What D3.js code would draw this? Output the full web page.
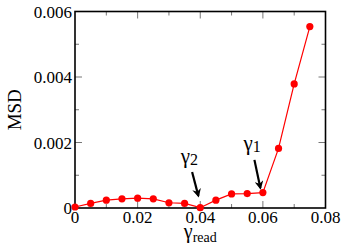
<!DOCTYPE html>
<html><head><meta charset="utf-8">
<script src="https://cdn.jsdelivr.net/npm/d3@7"></script>
<style>body{margin:0;background:#fff;} svg{display:block;}</style>
</head><body>
<svg id="c" width="346" height="249"></svg>
<script>
const xValues = [0,0.005,0.01,0.015,0.02,0.025,0.03,0.035,0.04,0.045,0.05,0.055,0.06,0.065,0.07,0.075];
const msdValues = [0.00003,0.00014,0.00024,0.00028,0.0003,0.00028,0.00016,0.00014,0.00001,0.00024,0.00043,0.00044,0.00047,0.00182,0.00379,0.00554];
const xTicks = [0,0.02,0.04,0.06,0.08];
const xTickLabels = ["0","0.02","0.04","0.06","0.08"];
const yTicks = [0,0.002,0.004,0.006];
const yTickLabels = ["0","0.002","0.004","0.006"];
const xMinor = [0.01,0.03,0.05,0.07];
const yMinor = [0.001,0.003,0.005];
const annotations = [
  {sub:"2", tx:0.0365, ty:0.00137, x1:0.0374, y1:0.0011, x2:0.0394, y2:0.00037},
  {sub:"1", tx:0.0566, ty:0.00177, x1:0.0573, y1:0.00147, x2:0.0592, y2:0.00061}
];

const svg = d3.select("#c");
const L=75, R=325.5, T=11.5, B=208;
const x = d3.scaleLinear().domain([0,0.08]).range([L,R]);
const y = d3.scaleLinear().domain([0,0.006]).range([B,T]);
const font = "'Liberation Serif','Times New Roman',serif";

const g = svg.append("g");
function tickLines(vals, len, axis){
  vals.forEach(v=>{
    if(axis==="x"){
      g.append("line").attr("x1",x(v)).attr("x2",x(v)).attr("y1",B).attr("y2",B-len).attr("stroke","#777").attr("stroke-width",1);
      g.append("line").attr("x1",x(v)).attr("x2",x(v)).attr("y1",T).attr("y2",T+len).attr("stroke","#777").attr("stroke-width",1);
    } else {
      g.append("line").attr("y1",y(v)).attr("y2",y(v)).attr("x1",L).attr("x2",L+len).attr("stroke","#777").attr("stroke-width",1);
      g.append("line").attr("y1",y(v)).attr("y2",y(v)).attr("x1",R).attr("x2",R-len).attr("stroke","#777").attr("stroke-width",1);
    }
  });
}
tickLines(xTicks.slice(1,-1),7,"x");
tickLines(xMinor,4,"x");
tickLines(yTicks.slice(1,-1),7,"y");
tickLines(yMinor,4,"y");

svg.append("rect").attr("x",L).attr("y",T).attr("width",R-L).attr("height",B-T)
  .attr("fill","none").attr("stroke","#000").attr("stroke-width",1.6);

xTicks.forEach((v,i)=>{
  svg.append("text").attr("x",x(v)).attr("y",B+15).attr("text-anchor","middle")
    .attr("font-family",font).attr("font-size",17).text(xTickLabels[i]);
});
yTicks.forEach((v,i)=>{
  svg.append("text").attr("x",L-3).attr("y",y(v)+6).attr("text-anchor","end")
    .attr("font-family",font).attr("font-size",17).text(yTickLabels[i]);
});

svg.append("text").attr("transform",`translate(21,${(T+B)/2}) rotate(-90)`).attr("text-anchor","middle")
  .attr("font-family",font).attr("font-size",19).text("MSD");
const xl = svg.append("text").attr("x",(L+R)/2).attr("y",238).attr("text-anchor","middle")
  .attr("font-family",font).attr("font-size",20);
xl.append("tspan").text("γ");
xl.append("tspan").attr("font-size",14).attr("dy",4).text("read");

const line = d3.line().x((d,i)=>x(xValues[i])).y(d=>y(d));
svg.append("path").datum(msdValues).attr("d",line).attr("fill","none").attr("stroke","#ff0000").attr("stroke-width",1.2);
svg.selectAll("circle.pt").data(msdValues).enter().append("circle")
  .attr("cx",(d,i)=>x(xValues[i])).attr("cy",d=>y(d)).attr("r",3.6).attr("fill","#ff0000");

const defs = svg.append("defs");
defs.append("marker").attr("id","ah").attr("viewBox","0 0 10 10").attr("refX",8).attr("refY",5)
  .attr("markerWidth",4).attr("markerHeight",4).attr("orient","auto").attr("markerUnits","strokeWidth")
  .append("path").attr("d","M0,0 L10,5 L0,10 L3,5 Z").attr("fill","#000");
annotations.forEach(a=>{
  const t = svg.append("text").attr("x",x(a.tx)).attr("y",y(a.ty)).attr("text-anchor","middle")
    .attr("font-family",font).attr("font-size",21);
  t.append("tspan").text("γ");
  t.append("tspan").attr("font-size",16).attr("dy",2).text(a.sub);
  svg.append("line").attr("x1",x(a.x1)).attr("y1",y(a.y1)).attr("x2",x(a.x2)).attr("y2",y(a.y2))
    .attr("stroke","#000").attr("stroke-width",2.2).attr("marker-end","url(#ah)");
});
</script>
</body></html>
